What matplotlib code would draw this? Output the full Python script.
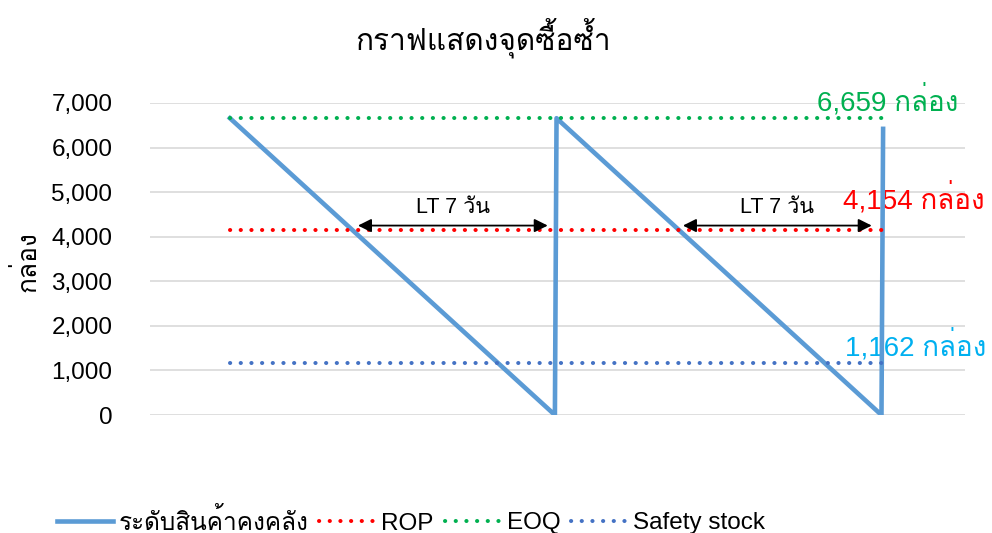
import matplotlib
matplotlib.use('Agg')
import matplotlib.pyplot as plt
import matplotlib.font_manager as fm
from matplotlib.ft2font import FT2Font
from matplotlib.ticker import FuncFormatter

# ---------------- data ----------------
day = [0, 10, 10.05, 20.05, 20.1]
stock = [6659, 0, 6659, 0, 6420]
level_x = [0, 20.25]
ROP = 4154
EOQ = 6659
SAFETY = 1162
y_ticks = [0, 1000, 2000, 3000, 4000, 5000, 6000, 7000]
lt_spans = [(3.94, 9.78), (13.94, 19.75)]
lt_label = 'LT 7 วัน'
series_names = ['ระดับสินค้าคงคลัง', 'ROP', 'EOQ', 'Safety stock']


def find_thai_font():
    """หาฟอนต์ในเครื่องที่มีตัวอักษรไทย (ก)"""
    for f in fm.fontManager.ttflist:
        try:
            if FT2Font(f.fname).get_char_index(0x0E01):
                return f.name
        except Exception:
            pass
    return None


thai = find_thai_font()
fams = ['Liberation Sans']
if thai:
    fams.append(thai)
fams.append('DejaVu Sans')
plt.rcParams['font.family'] = fams

fig = plt.figure(figsize=(9.92, 5.33), dpi=100)
ax = fig.add_axes([150 / 992, 1 - 415 / 533, 815 / 992, 312 / 533])

ax.plot(day, stock, color='#5B9BD5', lw=3.3, zorder=3, label=series_names[0])
dots = (0, (0.05, 2.6))
ax.plot(level_x, [ROP, ROP], color='#FF0000', lw=2.9, ls=dots,
        dash_capstyle='round', zorder=4, label=series_names[1])
ax.plot(level_x, [EOQ, EOQ], color='#00B050', lw=2.9, ls=dots,
        dash_capstyle='round', zorder=4, label=series_names[2])
ax.plot(level_x, [SAFETY, SAFETY], color='#4472C4', lw=2.9, ls=dots,
        dash_capstyle='round', zorder=4, label=series_names[3])

ax.set_xlim(-2.46, 22.62)
ax.set_ylim(0, 7000)
ax.set_yticks(y_ticks)
ax.yaxis.set_major_formatter(FuncFormatter(lambda v, p: f'{int(v):,}'))
ax.set_xticks([])
ax.tick_params(axis='y', length=0, pad=27, labelsize=17.5)
ax.grid(axis='y', color='#D9D9D9', lw=1.2)
ax.set_axisbelow(True)
for s in ax.spines.values():
    s.set_visible(False)

# ป้ายค่าด้านขวา
ax.text(18.06, 7067, f'{EOQ:,} กล่อง', color='#00B050', fontsize=20, va='center', zorder=5)
ax.text(18.86, 4869, f'{ROP:,} กล่อง', color='#FF0000', fontsize=20, va='center', zorder=2)
ax.text(18.92, 1570, f'{SAFETY:,} กล่อง', color='#00B0F0', fontsize=20, va='center', zorder=2)

# ลูกศร lead time
for x0, x1 in lt_spans:
    ax.annotate('', xy=(x1, 4250), xytext=(x0, 4250),
                arrowprops=dict(arrowstyle='<|-|>', color='black', lw=1.3,
                                mutation_scale=20, shrinkA=0, shrinkB=0), zorder=6)
    ax.text((x0 + x1) / 2, 4650, lt_label, fontsize=15.5, ha='center', va='center', zorder=6)

fig.text(483 / 992, 1 - 38 / 533, 'กราฟแสดงจุดซื้อซ้ำ', fontsize=21.5, ha='center', va='center')
fig.text(27 / 992, 1 - 262 / 533, 'กล่อง', fontsize=19, rotation=90, ha='center', va='center')

fig.legend(loc='center', bbox_to_anchor=(411 / 992, 1 - 521 / 533), ncol=4, frameon=False,
           fontsize=17.5, handlelength=2.3, handletextpad=0.25, columnspacing=0.45,
           borderaxespad=0)

fig.savefig('out.png', dpi=100)
